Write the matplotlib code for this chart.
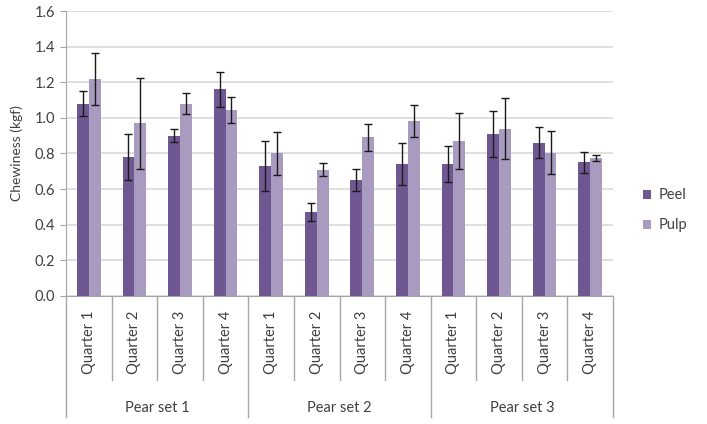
import numpy as np
import matplotlib
matplotlib.use("Agg")
import matplotlib.pyplot as plt
import matplotlib.transforms as mtransforms

plt.rcParams['font.family'] = ['Lato', 'DejaVu Sans']

sets = ["Pear set 1", "Pear set 2", "Pear set 3"]
quarters = ["Quarter 1", "Quarter 2", "Quarter 3", "Quarter 4"]

peel = [1.08, 0.78, 0.90, 1.16, 0.73, 0.47, 0.65, 0.74, 0.74, 0.91, 0.86, 0.75]
peel_err = [0.07, 0.13, 0.035, 0.10, 0.14, 0.05, 0.063, 0.117, 0.10, 0.13, 0.086, 0.06]
pulp = [1.22, 0.97, 1.08, 1.045, 0.80, 0.71, 0.89, 0.985, 0.87, 0.94, 0.805, 0.775]
pulp_err = [0.145, 0.255, 0.06, 0.075, 0.12, 0.035, 0.076, 0.09, 0.155, 0.17, 0.12, 0.015]

peel_color = "#6F5891"
pulp_color = "#A99BC0"
line_gray = "#A6A6A6"
txt = "#404040"
fs = 10.5

fig = plt.figure(figsize=(7.07, 4.24), dpi=100)
ax = fig.add_axes([0.0934, 0.302, 0.7736, 0.672])

n = len(peel)
x = np.arange(n)
w = 0.26
ekw = dict(ecolor="#1a1a1a", elinewidth=1.0, capsize=3, capthick=1.0)
ax.bar(x - w / 2, peel, w, color=peel_color, label="Peel", zorder=3,
       yerr=peel_err, error_kw=ekw)
ax.bar(x + w / 2, pulp, w, color=pulp_color, label="Pulp", zorder=3,
       yerr=pulp_err, error_kw=ekw)

ax.set_xlim(-0.5, n - 0.5)
ax.set_ylim(0, 1.6)
ax.set_yticks(np.arange(0, 1.61, 0.2))
ax.set_yticklabels([f"{v:.1f}" for v in np.arange(0, 1.61, 0.2)], fontsize=fs, color=txt)
ax.set_ylabel("Chewiness (kgf)", fontsize=fs - 0.5, color=txt, labelpad=8)
ax.yaxis.grid(True, color="#D9D9D9", linewidth=1.2, zorder=0)
ax.set_axisbelow(True)

for s in ["top", "right"]:
    ax.spines[s].set_visible(False)
ax.spines["left"].set_color(line_gray)
ax.spines["bottom"].set_color(line_gray)
ax.tick_params(axis="y", direction="out", length=4, color=line_gray, pad=4)
ax.set_xticks([])

# multi-level category axis
trans = mtransforms.blended_transform_factory(ax.transData, ax.transAxes)
for i in range(n + 1):
    xb = i - 0.5
    low = -0.425 if i % 4 == 0 else -0.295
    ax.plot([xb, xb], [0, low], color=line_gray, linewidth=1.0,
            transform=trans, clip_on=False)
for i in range(n):
    ax.text(i, -0.052, quarters[i % 4], rotation=90, ha="center", va="top",
            fontsize=fs, color=txt, transform=trans)
for j, name in enumerate(sets):
    ax.text(4 * j + 1.5, -0.393, name, ha="center", va="center",
            fontsize=fs, color=txt, transform=trans)

leg = ax.legend(loc="center left", bbox_to_anchor=(1.03, 0.30), frameon=False,
                fontsize=fs, handlelength=0.6, handleheight=0.6,
                labelspacing=1.1, handletextpad=0.5)
for t in leg.get_texts():
    t.set_color(txt)

plt.savefig("out.png", dpi=100)
